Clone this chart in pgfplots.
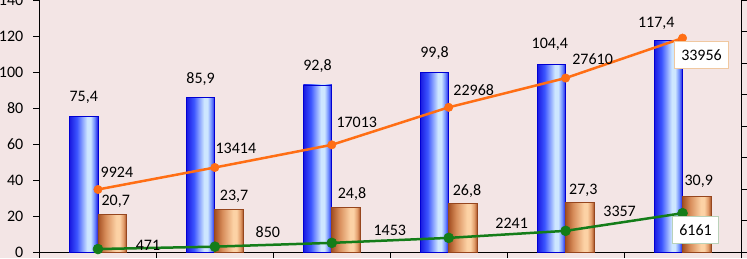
\documentclass[border=0pt]{standalone}
\usepackage{fontspec}
\setmainfont{Carlito}
\usepackage{pgfplots}
\usepackage{pgfplotstable}
\pgfplotsset{compat=1.18}

\definecolor{bgpink}{RGB}{243,229,229}
\definecolor{lineorange}{RGB}{255,110,20}
\definecolor{linegreen}{RGB}{20,125,25}
\definecolor{boxorange}{RGB}{240,200,160}
\definecolor{boxgreen}{RGB}{185,210,185}
\definecolor{bB0}{RGB}{25,25,225}
\definecolor{bB1}{RGB}{60,85,255}
\definecolor{bB2}{RGB}{205,230,255}
\definecolor{bB3}{RGB}{110,140,255}
\definecolor{bBedge}{RGB}{0,0,210}
\definecolor{bR0}{RGB}{165,80,35}
\definecolor{bR1}{RGB}{215,140,90}
\definecolor{bR2}{RGB}{252,210,165}
\definecolor{bR3}{RGB}{225,155,105}
\definecolor{bRedge}{RGB}{150,70,30}

\pgfdeclarehorizontalshading{bluebar}{100bp}{color(0bp)=(bB0); color(25bp)=(bB0); color(38bp)=(bB1); color(56bp)=(bB2); color(62bp)=(bB2); color(69bp)=(bB3); color(75bp)=(bB0); color(100bp)=(bB0)}
\pgfdeclarehorizontalshading{brownbar}{100bp}{color(0bp)=(bR0); color(25bp)=(bR0); color(38bp)=(bR1); color(57bp)=(bR2); color(63bp)=(bR2); color(70bp)=(bR3); color(75bp)=(bR0); color(100bp)=(bR0)}

\pgfplotstableread{
x y dx dy
0 75.4 -14.25 19
1 85.9 -14.25 18.7
2 92.8 -14.25 18.5
3 99.8 -14.25 19.3
4 104.4 -15.75 19.3
5 117.4 -26.25 17.5
}\bluedata
\pgfplotstableread{
x y dx dy
0 20.7 17.75 13.3
1 23.7 19.25 12.6
2 24.8 20.25 12.9
3 26.8 18.25 12.6
4 27.3 17.75 12.7
5 30.9 16.25 14.9
}\browndata
\pgfplotstableread{
x y dx dy bo
0 9924 19 17.5 0
1 13414 21 19 0
2 17013 25 22 0
3 22968 25 17 0
4 27610 27 19 0
5 33956 19 -17 1
}\orangedata
\pgfplotstableread{
x y dx dy bo
0 471 50 4 0
1 850 53 15 0
2 1453 58 12 0
3 2241 63 15 0
4 3357 54 19 0
5 6161 13 -17 1
}\greendata

\begin{document}
\begin{tikzpicture}
\useasboundingbox[fill=bgpink] (-39.5pt,-6pt) rectangle (707.5pt,252pt);
\begin{scope}
\clip (-39.5pt,-6pt) rectangle (707.5pt,252pt);
\begin{axis}[
  at={(0pt,0pt)}, anchor=south west,
  scale only axis, width=701.5pt, height=252pt,
  xmin=-0.5, xmax=5.5, ymin=0, ymax=140,
  axis x line*=bottom, axis y line*=left,
  axis line style={black, line width=1pt, -},
  xtick={-0.5,0.5,1.5,2.5,3.5,4.5,5.5}, xticklabels={},
  ytick={0,20,...,140},
  tick align=outside, major tick length=6pt,
  every tick/.style={black, line width=1pt},
  yticklabel style={font=\fontsize{16}{19}\selectfont, anchor=east, inner sep=0pt, xshift=-10pt},
  /pgf/number format/assume math mode=true,
  clip=false,
  nodes near coords={\pgfmathprintnumber[fixed, fixed zerofill, precision=1, use comma, assume math mode=true]{\pgfplotspointmeta}},
  visualization depends on={\thisrow{dx} \as \dx},
  visualization depends on={\thisrow{dy} \as \dy},
  every node near coord/.append style={font=\fontsize{16}{19}\selectfont, anchor=center, xshift=\dx pt, yshift=\dy pt, inner sep=0pt, text=black},
]
\pgfplotsinvokeforeach{0,1,2,3,4,5}{
  \addplot[ybar, bar width=28.5pt, bar shift=-14.25pt, draw=bBedge, line width=0.8pt, shading=bluebar, restrict x to domain=#1:#1] table[x=x,y=y] {\bluedata};
  \addplot[ybar, bar width=28.5pt, bar shift=14.25pt, draw=bRedge, line width=0.8pt, shading=brownbar, restrict x to domain=#1:#1] table[x=x,y=y] {\browndata};
}
\end{axis}
\begin{axis}[
  at={(0pt,0pt)}, anchor=south west,
  scale only axis, width=701.5pt, height=252pt,
  xmin=-0.5, xmax=5.5, ymin=0, ymax=40000,
  axis y line*=right, axis x line=none,
  axis line style={black, line width=1pt, -},
  ytick={0,5000,...,40000}, yticklabels={}, scaled y ticks=false,
  tick align=outside, major tick length=6pt,
  every tick/.style={black, line width=1pt},
  clip=false,
  nodes near coords={\pgfmathprintnumber[fixed, precision=0, 1000 sep={}, assume math mode=true]{\pgfplotspointmeta}},
  visualization depends on={\thisrow{dx} \as \dx},
  visualization depends on={\thisrow{dy} \as \dy},
  visualization depends on={\thisrow{bo} \as \bo},
  every node near coord/.append style={font=\fontsize{16}{19}\selectfont, anchor=center, xshift=\dx pt, yshift=\dy pt, text=black, fill=white, fill opacity=\bo, draw opacity=\bo, text opacity=1, inner xsep=6.5pt, inner ysep=8pt, line width=0.8pt},
]
\addplot[lineorange, line width=2.5pt, mark=*, mark size=4.2pt, mark options={solid, fill=lineorange, line width=0.5pt}, every node near coord/.append style={draw=boxorange}] table[x=x,y=y] {\orangedata};
\addplot[linegreen, line width=2.5pt, mark=*, mark size=5pt, mark options={solid, fill=linegreen, line width=0.5pt}, every node near coord/.append style={draw=boxgreen}] table[x=x,y=y] {\greendata};
\end{axis}
\end{scope}
\end{tikzpicture}
\end{document}
